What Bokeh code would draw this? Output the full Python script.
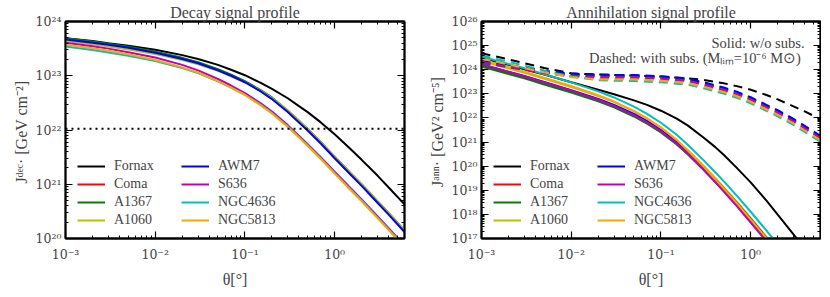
from bokeh.plotting import figure
from bokeh.models import (Legend, LegendItem, Span, LogAxis, FixedTicker, Label,
                          CustomJSTickFormatter)
from bokeh.layouts import row
from bokeh.embed import file_html
from bokeh.resources import INLINE

# ---------------- data (log10 values) ----------------
clusters = ["Fornax", "Coma", "A1367", "A1060", "AWM7", "S636", "NGC4636", "NGC5813"]
colors = ["#000000", "#ff0000", "#008000", "#bfbf00", "#0000ff", "#bf00bf", "#00bfbf", "#ffa500"]

# Decay J-factor profile, log10 J [GeV cm^-2]
theta_dec = [0.001, 0.002, 0.003, 0.005, 0.01, 0.02, 0.03, 0.05, 0.07, 0.1, 0.15,
             0.2, 0.3, 0.4, 0.5, 0.7, 1.0, 1.5, 2.0, 3.0, 4.0, 6.0]
dec_Fornax  = [23.69, 23.64, 23.60, 23.555, 23.48, 23.38, 23.31, 23.20, 23.11, 23.01, 22.87,
               22.76, 22.585, 22.44, 22.33, 22.14, 21.92, 21.65, 21.45, 21.16, 20.94, 20.63]
dec_Coma    = [23.68, 23.62, 23.58, 23.525, 23.435, 23.32, 23.24, 23.11, 23.01, 22.89, 22.72,
               22.58, 22.34, 22.15, 22.00, 21.76, 21.49, 21.19, 20.98, 20.67, 20.45, 20.13]
dec_A1367   = [23.69, 23.63, 23.59, 23.535, 23.445, 23.33, 23.25, 23.12, 23.02, 22.90, 22.735,
               22.60, 22.36, 22.17, 22.02, 21.78, 21.51, 21.21, 21.00, 20.69, 20.47, 20.15]
dec_A1060   = [23.64, 23.58, 23.54, 23.485, 23.40, 23.29, 23.21, 23.09, 22.99, 22.88, 22.72,
               22.59, 22.355, 22.165, 22.015, 21.775, 21.505, 21.205, 20.995, 20.685, 20.465, 20.145]
dec_AWM7    = [23.67, 23.61, 23.57, 23.515, 23.425, 23.31, 23.23, 23.10, 23.00, 22.88, 22.71,
               22.57, 22.33, 22.14, 21.99, 21.75, 21.48, 21.18, 20.97, 20.66, 20.44, 20.12]
dec_S636    = [23.61, 23.545, 23.50, 23.435, 23.335, 23.20, 23.10, 22.94, 22.82, 22.68, 22.49,
               22.34, 22.09, 21.895, 21.74, 21.50, 21.23, 20.93, 20.72, 20.41, 20.19, 19.87]
dec_NGC4636 = [23.54, 23.475, 23.43, 23.37, 23.27, 23.14, 23.05, 22.895, 22.78, 22.65, 22.465,
               22.315, 22.07, 21.875, 21.72, 21.48, 21.21, 20.91, 20.70, 20.39, 20.17, 19.85]
dec_NGC5813 = [23.57, 23.505, 23.46, 23.395, 23.29, 23.155, 23.06, 22.90, 22.78, 22.645, 22.455,
               22.305, 22.055, 21.86, 21.705, 21.465, 21.195, 20.895, 20.685, 20.375, 20.155, 19.835]
decay_level = 1.05e22  # dotted horizontal line

# Annihilation J-factor without substructure, log10 J [GeV^2 cm^-5]
theta_ann = [0.001, 0.002, 0.003, 0.005, 0.01, 0.02, 0.03, 0.05, 0.07, 0.1, 0.15,
             0.2, 0.3, 0.4, 0.5, 0.7, 1.0, 1.5, 2.0, 3.0, 4.0, 6.0]
ann_Fornax  = [24.50, 24.20, 24.02, 23.80, 23.48, 23.17, 22.98, 22.73, 22.54, 22.30, 21.97,
               21.68, 21.18, 20.80, 20.47, 19.93, 19.33, 18.57, 17.99, 17.17, 16.59, 15.75]
ann_Coma    = [24.18, 23.87, 23.69, 23.44, 23.105, 22.72, 22.47, 22.09, 21.79, 21.42, 20.92,
               20.50, 19.86, 19.38, 19.00, 18.40, 17.73, 16.95, 16.38, 15.57, 15.01, 14.20]
ann_A1367   = [24.13, 23.82, 23.64, 23.39, 23.055, 22.69, 22.44, 22.06, 21.76, 21.40, 20.90,
               20.48, 19.84, 19.36, 18.98, 18.38, 17.71, 16.93, 16.36, 15.55, 14.99, 14.18]
ann_A1060   = [24.36, 24.05, 23.87, 23.62, 23.285, 22.91, 22.655, 22.275, 21.97, 21.60, 21.09,
               20.66, 20.01, 19.52, 19.13, 18.525, 17.85, 17.07, 16.50, 15.69, 15.13, 14.32]
ann_AWM7    = [24.23, 23.92, 23.74, 23.49, 23.155, 22.785, 22.54, 22.165, 21.87, 21.50, 21.00,
               20.58, 19.94, 19.46, 19.08, 18.48, 17.81, 17.03, 16.46, 15.65, 15.09, 14.28]
ann_S636    = [24.22, 23.91, 23.73, 23.475, 23.135, 22.755, 22.50, 22.12, 21.82, 21.45, 20.94,
               20.51, 19.85, 19.35, 18.96, 18.34, 17.66, 16.88, 16.31, 15.50, 14.94, 14.13]
ann_NGC4636 = [24.55, 24.24, 24.06, 23.81, 23.475, 23.10, 22.85, 22.47, 22.17, 21.80, 21.30,
               20.88, 20.24, 19.76, 19.38, 18.78, 18.11, 17.33, 16.76, 15.95, 15.39, 14.58]
ann_NGC5813 = [24.41, 24.10, 23.92, 23.665, 23.325, 22.94, 22.68, 22.29, 21.98, 21.60, 21.08,
               20.64, 19.97, 19.47, 19.08, 18.47, 17.79, 17.01, 16.44, 15.63, 15.07, 14.26]

# Annihilation J-factor with substructure (M_lim = 1e-6 Msun), log10 J
theta_sub = [0.001, 0.002, 0.003, 0.005, 0.01, 0.02, 0.05, 0.1, 0.2, 0.3, 0.5, 0.7,
             1.0, 1.5, 2.0, 3.0, 4.0, 6.0]
sub_Fornax  = [24.68, 24.43, 24.27, 24.07, 23.85, 23.80, 23.76, 23.72, 23.64, 23.58, 23.44, 23.32,
               23.17, 22.95, 22.77, 22.48, 22.27, 21.95]
sub_Coma    = [24.30, 24.12, 24.02, 23.90, 23.78, 23.73, 23.72, 23.67, 23.57, 23.42, 23.20, 23.03,
               22.80, 22.48, 22.26, 21.90, 21.61, 21.20]
sub_A1367   = [24.28, 24.10, 24.01, 23.90, 23.79, 23.75, 23.74, 23.69, 23.59, 23.44, 23.22, 23.05,
               22.82, 22.50, 22.28, 21.92, 21.63, 21.22]
sub_A1060   = [24.42, 24.19, 24.05, 23.88, 23.71, 23.64, 23.63, 23.58, 23.48, 23.33, 23.11, 22.94,
               22.71, 22.39, 22.17, 21.81, 21.52, 21.11]
sub_AWM7    = [24.36, 24.18, 24.08, 23.96, 23.84, 23.79, 23.78, 23.73, 23.63, 23.48, 23.26, 23.09,
               22.86, 22.54, 22.32, 21.96, 21.67, 21.26]
sub_S636    = [24.33, 24.12, 24.00, 23.86, 23.72, 23.68, 23.68, 23.63, 23.53, 23.38, 23.16, 22.99,
               22.76, 22.44, 22.22, 21.86, 21.57, 21.16]
sub_NGC4636 = [24.59, 24.33, 24.17, 23.96, 23.72, 23.56, 23.53, 23.48, 23.38, 23.23, 23.01, 22.84,
               22.61, 22.29, 22.07, 21.71, 21.42, 21.01]
sub_NGC5813 = [24.46, 24.22, 24.07, 23.89, 23.69, 23.60, 23.59, 23.54, 23.44, 23.29, 23.07, 22.90,
               22.67, 22.35, 22.13, 21.77, 21.48, 21.07]

decay_data = [dec_Fornax, dec_Coma, dec_A1367, dec_A1060, dec_AWM7, dec_S636, dec_NGC4636, dec_NGC5813]
ann_data = [ann_Fornax, ann_Coma, ann_A1367, ann_A1060, ann_AWM7, ann_S636, ann_NGC4636, ann_NGC5813]
sub_data = [sub_Fornax, sub_Coma, sub_A1367, sub_A1060, sub_AWM7, sub_S636, sub_NGC4636, sub_NGC5813]

x_range = (1e-3, 6.0)
y_range_dec = (1e20, 1e24)
y_range_ann = (1e17, 1e26)
x_ticks = [1e-3, 1e-2, 1e-1, 1e0]
x_tick_labels = ["10⁻³", "10⁻²", "10⁻¹", "10⁰"]
y_ticks_dec = [1e20, 1e21, 1e22, 1e23, 1e24]
y_tick_labels_dec = ["10²⁰", "10²¹", "10²²", "10²³", "10²⁴"]
y_ticks_ann = [1e17, 1e18, 1e19, 1e20, 1e21, 1e22, 1e23, 1e24, 1e25, 1e26]
y_tick_labels_ann = ["10¹⁷", "10¹⁸", "10¹⁹", "10²⁰", "10²¹", "10²²", "10²³", "10²⁴", "10²⁵", "10²⁶"]

FONT = "Liberation Serif"
TICKFONT = "DejaVu Serif"


def minors(majors, top):
    out = []
    for m in majors:
        for k in range(2, 10):
            v = m * k
            if v <= top:
                out.append(v)
    return out


def style_axis(ax):
    ax.major_tick_in = 7
    ax.major_tick_out = 0
    ax.minor_tick_in = 3
    ax.minor_tick_out = 0
    ax.axis_line_width = 1.8
    ax.major_tick_line_width = 1.2


def make_fig(title, ylabel, yr, yticks, ylabels, border_left, border_right):
    p = figure(x_axis_type="log", y_axis_type="log",
               x_range=x_range, y_range=yr,
               frame_width=339, frame_height=217,
               min_border_left=border_left, min_border_right=border_right,
               min_border_top=21, min_border_bottom=47,
               output_backend="svg", toolbar_location=None, title=title)
    p.title.align = "center"
    p.title.text_font = FONT
    p.title.text_font_style = "normal"
    p.title.text_font_size = "16px"
    p.title.standoff = 1
    p.grid.visible = False
    p.outline_line_color = "black"
    p.outline_line_width = 1.8
    p.background_fill_color = "white"
    p.border_fill_color = "white"

    p.xaxis.ticker = FixedTicker(ticks=x_ticks, minor_ticks=minors(x_ticks, x_range[1]))
    p.yaxis.ticker = FixedTicker(ticks=yticks, minor_ticks=minors(yticks[:-1], yr[1]))
    p.xaxis.major_label_overrides = dict(zip(x_ticks, x_tick_labels))
    p.yaxis.major_label_overrides = dict(zip(yticks, ylabels))
    for ax in (p.xaxis[0], p.yaxis[0]):
        style_axis(ax)
        ax.major_label_text_font = TICKFONT
        ax.major_label_text_font_size = "12.5px"
        ax.axis_label_text_font = FONT
        ax.axis_label_text_font_size = "16px"
        ax.axis_label_text_font_style = "normal"
    p.xaxis.major_label_standoff = 8
    p.yaxis.major_label_standoff = 4
    p.xaxis.axis_label = "θ[°]"
    p.yaxis.axis_label = ylabel
    p.xaxis.axis_label_standoff = 6
    p.yaxis.axis_label_standoff = 3

    # mirrored ticks on top and right
    blank = CustomJSTickFormatter(code="return ' '")
    ax_r = LogAxis(ticker=FixedTicker(ticks=yticks, minor_ticks=minors(yticks[:-1], yr[1])),
                   formatter=blank)
    ax_t = LogAxis(ticker=FixedTicker(ticks=x_ticks, minor_ticks=minors(x_ticks, x_range[1])),
                   formatter=blank)
    for ax in (ax_r, ax_t):
        style_axis(ax)
        ax.major_label_text_font_size = "2px"
        ax.major_label_text_alpha = 0
        ax.major_label_standoff = 0
    p.add_layout(ax_r, "right")
    p.add_layout(ax_t, "above")
    return p


def add_legends(p):
    items = []
    for i, name in enumerate(clusters):
        items.append(LegendItem(label=name, renderers=[p.renderers[i]]))
    for col_items, xoff in ((items[:4], 12), (items[4:], 116)):
        lg = Legend(items=col_items, location=(xoff, 10), orientation="vertical",
                    glyph_width=28, glyph_height=14, label_standoff=9,
                    spacing=2, padding=0, margin=0,
                    label_text_font=FONT, label_text_font_size="14px",
                    label_height=14,
                    background_fill_alpha=0, border_line_alpha=0)
        p.add_layout(lg)


# ---------------- left: decay ----------------
p1 = make_fig("Decay signal profile", "Jᵈᵉᶜ·  [GeV cm⁻²]", y_range_dec,
              y_ticks_dec, y_tick_labels_dec, 65, 9)
for name, col, vals in zip(clusters, colors, decay_data):
    p1.line(theta_dec, [10 ** v for v in vals], line_color=col, line_width=2)
add_legends(p1)
p1.add_layout(Span(location=decay_level, dimension="width", line_color="black",
                   line_dash="2 4", line_width=2))

# ---------------- right: annihilation ----------------
p2 = make_fig("Annihilation signal profile", "Jᵃⁿⁿ·  [GeV² cm⁻⁵]", y_range_ann,
              y_ticks_ann, y_tick_labels_ann, 68, 1)
for name, col, vals in zip(clusters, colors, ann_data):
    p2.line(theta_ann, [10 ** v for v in vals], line_color=col, line_width=2)
for name, col, vals in zip(clusters, colors, sub_data):
    p2.line(theta_sub, [10 ** v for v in vals], line_color=col, line_width=2, line_dash="9 6")
add_legends(p2)
p2.add_layout(Label(x=323, y=196, x_units="screen", y_units="screen", text="Solid: w/o subs.",
                    text_align="right", text_baseline="middle", text_font=FONT,
                    text_font_size="14.5px"))
p2.add_layout(Label(x=323, y=181, x_units="screen", y_units="screen",
                    text="Dashed: with subs.  (Mₗᵢₘ=10⁻⁶ M⊙)",
                    text_align="right", text_baseline="middle", text_font=FONT,
                    text_font_size="14.5px"))

layout = row(p1, p2)
open("out.html", "w").write(file_html(layout, INLINE))
